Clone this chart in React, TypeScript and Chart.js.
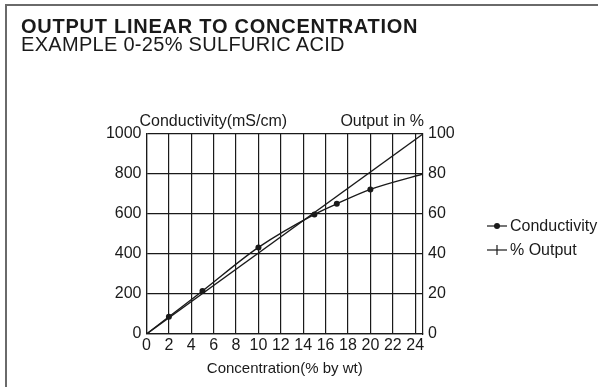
import React, { useEffect, useRef } from "react";
import { Chart, registerables } from "chart.js";

Chart.register(...registerables);

const titleText = "OUTPUT LINEAR TO CONCENTRATION";
const subtitleText = "EXAMPLE 0-25% SULFURIC ACID";
const leftAxisTitle = "Conductivity(mS/cm)";
const rightAxisTitle = "Output in %";
const xAxisTitle = "Concentration(% by wt)";
const legendLabels = ["Conductivity", "% Output"];

// Concentration (% by wt) and conductivity (mS/cm)
const concentration = [0, 2, 5, 10, 15, 17, 20, 24.7];
const conductivity = [0, 86, 215, 433, 598, 651, 723, 800];
const measured = [false, true, true, true, true, true, true, false];

// % Output (linear)
const outputConc = [0, 24.7];
const outputPct = [0, 100];

const xMax = 24.7;
const xStep = 2;
const yMax = 1000;
const yStep = 200;
const y2Max = 100;
const y2Step = 20;

const INK = "#1a1a1a";
const FONT = '"Liberation Sans", Arial, Helvetica, sans-serif';

const extraText = {
  id: "extraText",
  afterDraw(chart: any) {
    const { ctx, chartArea } = chart;
    ctx.save();
    ctx.fillStyle = INK;
    ctx.strokeStyle = INK;
    ctx.font = `16px ${FONT}`;
    ctx.textBaseline = "alphabetic";
    ctx.textAlign = "left";
    ctx.fillText(leftAxisTitle, chartArea.left - 7, chartArea.top - 8);
    ctx.textAlign = "right";
    ctx.fillText(rightAxisTitle, chartArea.right + 1, chartArea.top - 8);

    // legend
    const lx = chartArea.right + 64;
    const rows = [chartArea.top + 92, chartArea.top + 116];
    ctx.lineWidth = 1.2;
    ctx.textAlign = "left";
    ctx.textBaseline = "middle";
    rows.forEach((cy, i) => {
      ctx.beginPath();
      ctx.moveTo(lx, cy);
      ctx.lineTo(lx + 20, cy);
      ctx.stroke();
      if (i === 0) {
        ctx.beginPath();
        ctx.arc(lx + 10, cy, 3, 0, Math.PI * 2);
        ctx.fill();
      } else {
        ctx.beginPath();
        ctx.moveTo(lx + 10, cy - 5);
        ctx.lineTo(lx + 10, cy + 5);
        ctx.stroke();
      }
      ctx.fillText(legendLabels[i], lx + 23, cy + 1);
    });
    ctx.restore();
  },
};

export default function App() {
  const ref = useRef<HTMLCanvasElement | null>(null);

  useEffect(() => {
    if (!ref.current) return;
    const tickFont = { family: FONT, size: 16 };
    const plain = (v: any) => String(v);
    const chart = new Chart(ref.current, {
      type: "line",
      data: {
        datasets: [
          {
            label: legendLabels[0],
            data: concentration.map((c, i) => ({ x: c, y: conductivity[i] })),
            yAxisID: "y",
            borderColor: INK,
            borderWidth: 1.4,
            backgroundColor: INK,
            pointBackgroundColor: INK,
            pointBorderColor: INK,
            pointRadius: measured.map((m) => (m ? 3 : 0)),
            pointBorderWidth: 0,
            cubicInterpolationMode: "monotone",
            fill: false,
          },
          {
            label: legendLabels[1],
            data: outputConc.map((c, i) => ({ x: c, y: outputPct[i] })),
            yAxisID: "y2",
            borderColor: INK,
            borderWidth: 1.4,
            pointRadius: 0,
            fill: false,
          },
        ],
      },
      options: {
        responsive: false,
        animation: false,
        devicePixelRatio: 1,
        layout: { padding: { top: 134, left: 0, right: 0, bottom: 0 } },
        plugins: {
          legend: { display: false },
          tooltip: { enabled: false },
          title: { display: false },
        },
        scales: {
          x: {
            type: "linear",
            min: 0,
            max: xMax,
            grid: { color: INK, lineWidth: 1.2, drawTicks: false },
            border: { color: INK, width: 1.2 },
            ticks: {
              stepSize: xStep,
              includeBounds: false,
              autoSkip: false,
              maxRotation: 0,
              padding: 2,
              color: INK,
              font: tickFont,
              callback: plain,
            },
            title: {
              display: true,
              text: xAxisTitle,
              color: INK,
              font: { family: FONT, size: 15 },
              padding: { top: 2, bottom: 9 },
            },
            afterFit: (s: any) => {
              s.height = 53;
            },
          },
          y: {
            type: "linear",
            position: "left",
            min: 0,
            max: yMax,
            grid: { color: INK, lineWidth: 1.2, drawTicks: false },
            border: { color: INK, width: 1.2 },
            ticks: { stepSize: yStep, padding: 5, color: INK, font: tickFont, callback: plain },
            afterFit: (s: any) => {
              s.width = 146.5;
            },
          },
          y2: {
            type: "linear",
            position: "right",
            min: 0,
            max: y2Max,
            grid: { display: false, drawTicks: false },
            border: { display: true, color: INK, width: 1.2 },
            ticks: { stepSize: y2Step, padding: 5, color: INK, font: tickFont, callback: plain },
            afterFit: (s: any) => {
              s.width = 175;
            },
          },
        },
      },
      plugins: [extraText],
    } as any);
    return () => chart.destroy();
  }, []);

  return (
    <div
      style={{
        position: "fixed",
        left: 0,
        top: 0,
        width: 598,
        height: 387,
        background: "#fff",
        overflow: "hidden",
        fontFamily: FONT,
        color: INK,
      }}
    >
      <div
        style={{
          position: "absolute",
          left: 5,
          top: 4,
          width: 600,
          height: 400,
          borderTop: "2px solid #6a6a6a",
          borderLeft: "2px solid #6a6a6a",
        }}
      />
      <canvas
        ref={ref}
        width={598}
        height={387}
        style={{ position: "absolute", left: 0, top: 0, width: 598, height: 387 }}
      />
      <div
        style={{
          position: "absolute",
          left: 21,
          top: 17,
          fontSize: 20,
          lineHeight: "18px",
          whiteSpace: "nowrap",
        }}
      >
        <div style={{ fontWeight: "bold", letterSpacing: "0.75px" }}>{titleText}</div>
        <div style={{ letterSpacing: "0.3px" }}>{subtitleText}</div>
      </div>
    </div>
  );
}
